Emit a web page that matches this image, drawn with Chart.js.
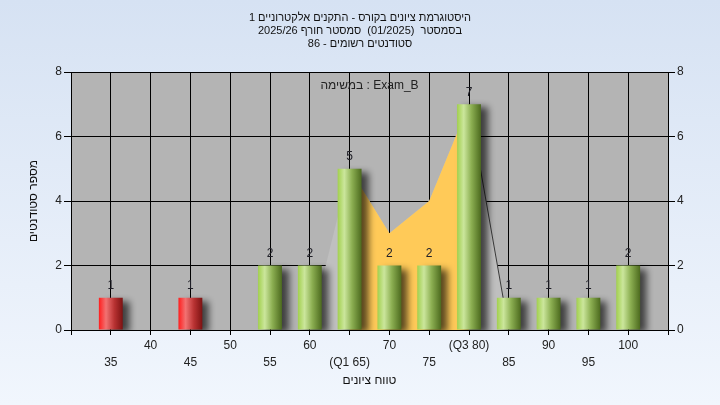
<!DOCTYPE html>
<html>
<head>
<meta charset="utf-8">
<script src="https://cdn.jsdelivr.net/npm/chart.js@4.4.1/dist/chart.umd.min.js"></script>
<style>
  html, body { margin: 0; padding: 0; }
  body { width: 720px; height: 405px; overflow: hidden; background: linear-gradient(#d6e2f3, #f1f6fd); }
</style>
</head>
<body>
<canvas id="chart" width="720" height="405"></canvas>
<script>
'use strict';

const titleLines = [
  'היסטוגרמת ציונים בקורס - התקנים אלקטרוניים 1',
  'בסמסטר  (01/2025)  סמסטר חורף 2025/26',
  'סטודנטים רשומים - 86'
];
const examLabel = 'במשימה : Exam_B';
const xTitle = 'טווח ציונים';
const yTitle = 'מספר סטודנטים';

const grades = [35, 40, 45, 50, 55, 60, 65, 70, 75, 80, 85, 90, 95, 100];
const counts = [1, 0, 1, 0, 2, 2, 5, 2, 2, 7, 1, 1, 1, 2];
const tickLabels = ['35', '40', '45', '50', '55', '60', '(Q1 65)', '70', '75', '(Q3 80)', '85', '90', '95', '100'];
const failBelow = 55;

// the shaded curve behind the bars, and its Q1..Q3 part in yellow
const curveGrades = [60, 65, 70, 75, 80, 85];
const curveValues = [0, 5, 3, 4, 7, 0];
const q1 = 65;
const q3 = 80;

const yMin = 0, yMax = 8, yStep = 2;
const xMin = 30, xMax = 105, xStep = 5;

const FONT = "'Liberation Sans', Arial, sans-serif";

function barFill(ctx) {
  const chart = ctx.chart;
  const i = ctx.dataIndex;
  const fail = grades[i] < failBelow;
  if (!chart.chartArea || i === undefined) return fail ? '#e03030' : '#a0c850';
  const x = chart.scales.x;
  const cx = x.getPixelForValue(grades[i]);
  const half = (x.getPixelForValue(grades[i] + xStep) - cx) * 0.3;
  const g = chart.ctx.createLinearGradient(cx - half, 0, cx + half, 0);
  if (fail) {
    g.addColorStop(0, '#ff1e1e');
    g.addColorStop(0.3, '#f27272');
    g.addColorStop(0.65, '#b83232');
    g.addColorStop(1, '#7c1212');
  } else {
    g.addColorStop(0, '#a2d04e');
    g.addColorStop(0.28, '#cbe69c');
    g.addColorStop(0.6, '#8caf52');
    g.addColorStop(1, '#4c6a1e');
  }
  return g;
}

const plotBackground = {
  id: 'plotBackground',
  beforeDraw(chart) {
    const {ctx, chartArea: a} = chart;
    ctx.save();
    ctx.fillStyle = '#b4b4b4';
    ctx.fillRect(a.left, a.top, a.right - a.left, a.bottom - a.top);
    ctx.restore();
  }
};

const barShadow = {
  id: 'barShadow',
  beforeDatasetDraw(chart, args) {
    if (args.meta.type !== 'bar') return;
    const c = chart.ctx;
    c.save();
    c.shadowColor = 'rgba(0,0,0,0.65)';
    c.shadowBlur = 7;
    c.shadowOffsetX = 7;
    c.shadowOffsetY = 3;
  },
  afterDatasetDraw(chart, args) {
    if (args.meta.type === 'bar') chart.ctx.restore();
  }
};

const barValues = {
  id: 'barValues',
  afterDatasetsDraw(chart) {
    const ctx = chart.ctx;
    const a = chart.chartArea;
    ctx.save();
    ctx.font = '12px ' + FONT;
    ctx.textAlign = 'center';
    ctx.textBaseline = 'middle';
    ctx.fillStyle = '#202028';
    chart.getDatasetMeta(0).data.forEach((el, i) => {
      if (counts[i] > 0) ctx.fillText(String(counts[i]), el.x, el.y - 12);
    });
    // exam name inside the plot
    ctx.fillStyle = '#222';
    ctx.fillText(examLabel, (a.left + a.right) / 2, a.top + 14);
    ctx.restore();
  }
};

new Chart(document.getElementById('chart'), {
  type: 'bar',
  data: {
    datasets: [{
      label: 'counts',
      data: grades.map((g, i) => ({x: g, y: counts[i]})),
      backgroundColor: barFill,
      borderWidth: 0,
      barPercentage: 0.6,
      categoryPercentage: 1,
      order: 0
    }, {
      type: 'line',
      label: 'iqr',
      data: curveGrades.map((g, i) => ({x: g, y: curveValues[i]})).filter(p => p.x >= q1 && p.x <= q3),
      backgroundColor: '#ffca58',
      borderWidth: 0,
      pointRadius: 0,
      tension: 0,
      fill: 'origin',
      order: 1
    }, {
      type: 'line',
      label: 'curve',
      data: curveGrades.map((g, i) => ({x: g, y: curveValues[i]})),
      backgroundColor: '#bfbfbf',
      borderWidth: 1,
      segment: {
        borderColor: c => c.p0.parsed.x >= q3 ? '#3a3a3a' : 'rgba(0,0,0,0)'
      },
      pointRadius: 0,
      tension: 0,
      fill: 'origin',
      order: 2
    }]
  },
  options: {
    responsive: false,
    animation: false,
    devicePixelRatio: 1,
    layout: {padding: 0},
    plugins: {
      legend: {display: false},
      tooltip: {enabled: false},
      title: {
        display: true,
        text: titleLines,
        color: '#111',
        font: {family: FONT, size: 11, weight: 'normal', lineHeight: '13px'},
        padding: {top: 11.5, bottom: 21.5}
      }
    },
    scales: {
      x: {
        type: 'linear',
        min: xMin,
        max: xMax,
        offset: false,
        ticks: {
          stepSize: xStep,
          autoSkip: false,
          maxRotation: 0,
          padding: 2,
          color: '#222',
          font: {family: FONT, size: 12, lineHeight: '17px'},
          callback: (value) => {
            const i = grades.indexOf(value);
            if (i < 0) return '';
            return i % 2 === 0 ? ['', tickLabels[i]] : tickLabels[i];
          }
        },
        grid: {color: '#000', lineWidth: 1, tickLength: 5, offset: false},
        border: {color: '#000'},
        title: {
          display: true,
          text: xTitle,
          color: '#111',
          font: {family: FONT, size: 12},
          padding: {top: 0, bottom: 16.8}
        },
        afterFit: s => { s.height = 75; }
      },
      y: {
        position: 'left',
        min: yMin,
        max: yMax,
        ticks: {stepSize: yStep, padding: 2, color: '#222', font: {family: FONT, size: 12}},
        grid: {color: '#000', lineWidth: 1, tickLength: 7},
        border: {color: '#000'},
        title: {
          display: true,
          text: yTitle,
          color: '#111',
          font: {family: FONT, size: 12},
          padding: {top: 26, bottom: 0}
        },
        afterFit: s => { s.width = 71; }
      },
      y2: {
        position: 'right',
        min: yMin,
        max: yMax,
        ticks: {stepSize: yStep, padding: 2, color: '#222', font: {family: FONT, size: 12}},
        grid: {drawOnChartArea: false, color: '#000', tickLength: 7},
        border: {color: '#000'},
        afterFit: s => { s.width = 52; }
      }
    }
  },
  plugins: [plotBackground, barShadow, barValues]
});
</script>
</body>
</html>
